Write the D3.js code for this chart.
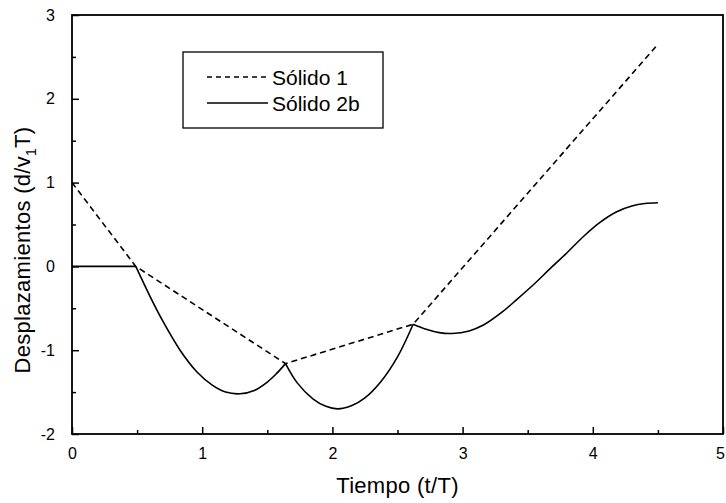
<!DOCTYPE html>
<html>
<head>
<meta charset="utf-8">
<script src="https://cdn.jsdelivr.net/npm/d3@7"></script>
<style>
  body { margin: 0; background: #fff; }
  svg { display: block; font-family: "Liberation Sans", Arial, sans-serif; }
</style>
</head>
<body>
<div id="canvas"></div>
<script>
// Solido 1 (dashed, piecewise linear)
var s1T = [0, 0.49, 1.64, 2.62, 4.5];
var s1D = [1, 0, -1.16, -0.69, 2.65];

// Solido 2b (solid), split into pieces at the cusps
var s2Pieces = [
  { t: [0, 0.49], d: [0, 0] },
  { t: [0.49, 0.6, 0.7, 0.83, 0.96, 1.08, 1.18, 1.29, 1.4, 1.5, 1.57, 1.64],
    d: [0, -0.36, -0.66, -1.0, -1.26, -1.42, -1.5, -1.52, -1.48, -1.38, -1.28, -1.16] },
  { t: [1.64, 1.73, 1.85, 1.95, 2.04, 2.15, 2.25, 2.37, 2.5, 2.62],
    d: [-1.16, -1.39, -1.58, -1.67, -1.7, -1.66, -1.57, -1.38, -1.08, -0.69] },
  { t: [2.62, 2.72, 2.82, 2.92, 3.05, 3.16, 3.3, 3.42, 3.55, 3.67, 3.8, 3.93, 4.05, 4.18, 4.3, 4.4, 4.5],
    d: [-0.69, -0.75, -0.79, -0.8, -0.77, -0.7, -0.55, -0.39, -0.21, -0.03, 0.16, 0.36, 0.52, 0.65, 0.72, 0.75, 0.76] }
];

var xTicks = [0, 1, 2, 3, 4, 5];
var yTicks = [-2, -1, 0, 1, 2, 3];
var legendNames = ["Sólido 1", "Sólido 2b"];

var width = 726, height = 503;
var margin = {left: 72, right: 3, top: 15, bottom: 69};

var svg = d3.select("#canvas").append("svg")
  .attr("width", width)
  .attr("height", height);

var x = d3.scaleLinear().domain([0, 5]).range([margin.left, width - margin.right]);
var y = d3.scaleLinear().domain([-2, 3]).range([height - margin.bottom, margin.top]);
var fmt = d => String(d); // plain hyphen minus, like the original

// frame
svg.append("rect")
  .attr("x", x(0)).attr("y", y(3))
  .attr("width", x(5) - x(0)).attr("height", y(-2) - y(3))
  .attr("fill", "none").attr("stroke", "#000").attr("stroke-width", 1.8);

// minor ticks
var minorX = d3.range(0.5, 5, 1);
var minorY = d3.range(-1.5, 3, 1);
svg.append("g")
  .attr("transform", "translate(0," + y(-2) + ")")
  .call(d3.axisBottom(x).tickValues(minorX).tickSizeInner(-4).tickSizeOuter(0).tickFormat(""))
  .call(g => g.select(".domain").remove());
svg.append("g")
  .attr("transform", "translate(" + x(0) + ",0)")
  .call(d3.axisLeft(y).tickValues(minorY).tickSizeInner(-4).tickSizeOuter(0).tickFormat(""))
  .call(g => g.select(".domain").remove());

// major ticks
var xAxis = svg.append("g")
  .attr("transform", "translate(0," + y(-2) + ")")
  .call(d3.axisBottom(x).tickValues(xTicks).tickSizeInner(-7).tickSizeOuter(0).tickPadding(14).tickFormat(fmt));
var yAxis = svg.append("g")
  .attr("transform", "translate(" + x(0) + ",0)")
  .call(d3.axisLeft(y).tickValues(yTicks).tickSizeInner(-7).tickSizeOuter(0).tickPadding(17).tickFormat(fmt));
[xAxis, yAxis].forEach(function(g) {
  g.select(".domain").remove();
  g.selectAll("text").attr("font-size", "16px").attr("font-family", "Liberation Sans, Arial, sans-serif").attr("fill", "#000");
});
// last x label sits at the page edge
xAxis.selectAll("text").filter(d => d === 5).attr("dx", -3);
svg.selectAll(".tick line").attr("stroke", "#000").attr("stroke-width", 1.5);

// axis labels
svg.append("text")
  .attr("x", (x(0) + x(5)) / 2)
  .attr("y", 493)
  .attr("font-size", "22px")
  .attr("letter-spacing", "0.3px")
  .attr("text-anchor", "middle")
  .text("Tiempo (t/T)");

var yl = svg.append("text")
  .attr("transform", "translate(30,250) rotate(-90)")
  .attr("font-size", "22px")
  .attr("letter-spacing", "0.3px")
  .attr("text-anchor", "middle");
yl.append("tspan").text("Desplazamientos (d/v");
yl.append("tspan").attr("font-size", "14px").attr("dy", 6).text("1");
yl.append("tspan").attr("dy", -6).text("T)");

// lines
var line = d3.line().x(d => x(d[0])).y(d => y(d[1]));
var s1 = s1T.map((t, i) => [t, s1D[i]]);
svg.append("path")
  .attr("d", line(s1))
  .attr("fill", "none").attr("stroke", "#000")
  .attr("stroke-width", 1.6).attr("stroke-dasharray", "6,4");

var curve = d3.line().x(d => x(d[0])).y(d => y(d[1])).curve(d3.curveCatmullRom.alpha(0.5));
var s2Path = s2Pieces.map(p => curve(p.t.map((t, i) => [t, p.d[i]]))).join("");
svg.append("path")
  .attr("d", s2Path)
  .attr("fill", "none").attr("stroke", "#000")
  .attr("stroke-width", 1.6);

// legend
var lg = svg.append("g");
lg.append("rect")
  .attr("x", 183).attr("y", 52).attr("width", 200).attr("height", 76)
  .attr("fill", "#fff").attr("stroke", "#000").attr("stroke-width", 1.3);
legendNames.forEach(function(name, i) {
  var ly = 77 + i * 26;
  lg.append("line")
    .attr("x1", 207).attr("x2", 268).attr("y1", ly).attr("y2", ly)
    .attr("stroke", "#000").attr("stroke-width", 1.4)
    .attr("stroke-dasharray", i === 0 ? "5,4" : null);
  lg.append("text")
    .attr("x", 272).attr("y", ly + 7.5)
    .attr("font-size", "21px")
    .text(name);
});
</script>
</body>
</html>
